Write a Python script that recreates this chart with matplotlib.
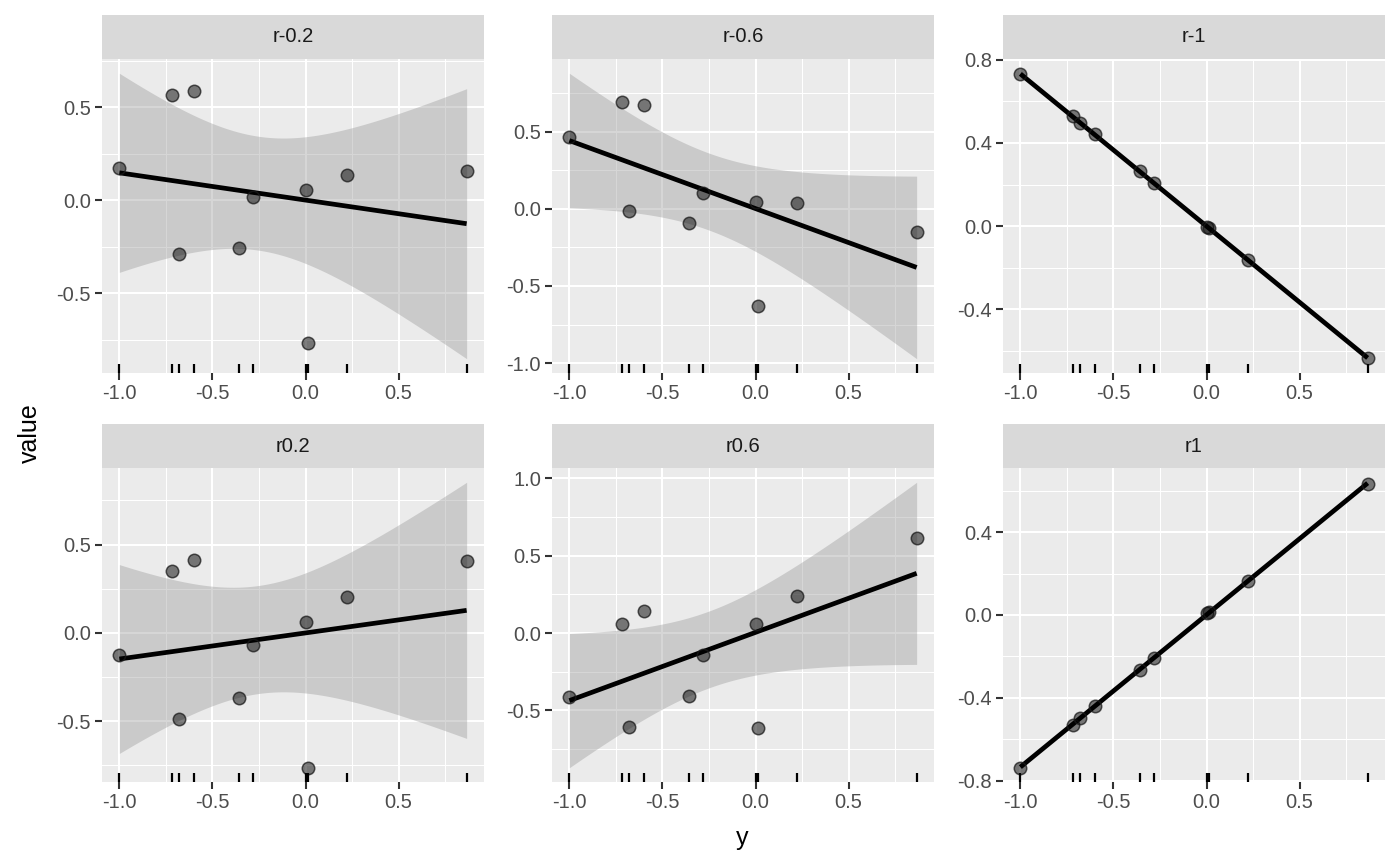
import matplotlib
matplotlib.use("Agg")
import matplotlib.pyplot as plt
from matplotlib.ticker import MultipleLocator
import numpy as np

plt.rcParams['font.family'] = ['Liberation Sans', 'DejaVu Sans']

# shared x values (y on the axis)
y_vals = [-1.0, -0.72, -0.68, -0.60, -0.36, -0.285, 0.005, 0.012, 0.225, 0.865]

panels = ['r-0.2', 'r-0.6', 'r-1', 'r0.2', 'r0.6', 'r1']
v_rm02 = [0.171, 0.568, -0.287, 0.589, -0.259, 0.016, 0.057, -0.766, 0.137, 0.155]
v_rm06 = [0.466, 0.694, -0.015, 0.675, -0.092, 0.104, 0.046, -0.629, 0.041, -0.149]
v_rm1 = [0.733, 0.529, 0.495, 0.441, 0.265, 0.206, -0.006, -0.010, -0.162, -0.632]
v_r02 = [-0.124, 0.353, -0.488, 0.411, -0.368, -0.068, 0.060, -0.764, 0.201, 0.408]
v_r06 = [-0.416, 0.060, -0.610, 0.144, -0.410, -0.144, 0.056, -0.612, 0.240, 0.614]
v_r1 = [-0.737, -0.529, -0.497, -0.440, -0.264, -0.209, 0.008, 0.012, 0.166, 0.633]
values = [v_rm02, v_rm06, v_rm1, v_r02, v_r06, v_r1]
tick_step = [0.5, 0.5, 0.4, 0.5, 0.5, 0.4]

T_975 = 2.306  # t quantile, df = 8

BG = '#EBEBEB'
STRIP = '#D9D9D9'

fig = plt.figure(figsize=(14, 8.66), dpi=100)

col_left = [102, 552, 1003]
col_w = 382
row_bottom = [373, 782]
panel_h = 314
strip_h = 44
W, H = 1400, 866

x = np.array(y_vals)
xlo, xhi = x.min(), x.max()
xpad = (xhi - xlo) * 0.05

for i, name in enumerate(panels):
    r, c = divmod(i, 3)
    v = np.array(values[i])
    left = col_left[c] / W
    bottom = 1 - row_bottom[r] / H
    ax = fig.add_axes([left, bottom, col_w / W, panel_h / H])
    sax = fig.add_axes([left, bottom + panel_h / H, col_w / W, strip_h / H])

    # linear fit with 95% band
    n = len(x)
    b, a = np.polyfit(x, v, 1)
    resid = v - (a + b * x)
    s = np.sqrt(np.sum(resid ** 2) / (n - 2))
    sxx = np.sum((x - x.mean()) ** 2)
    xs = np.linspace(xlo, xhi, 80)
    fit = a + b * xs
    se = s * np.sqrt(1.0 / n + (xs - x.mean()) ** 2 / sxx)
    lo, hi = fit - T_975 * se, fit + T_975 * se

    ax.set_facecolor(BG)
    ax.fill_between(xs, lo, hi, color='#999999', alpha=0.4, linewidth=0, zorder=2)
    ax.plot(xs, fit, color='black', linewidth=3.4, zorder=3, solid_capstyle='butt')
    ax.scatter(x, v, s=80, color=(0, 0, 0, 0.5), edgecolors=(0.1, 0.1, 0.1, 0.75),
               linewidths=1.1, zorder=4)

    ymin = min(v.min(), lo.min())
    ymax = max(v.max(), hi.max())
    ypad = (ymax - ymin) * 0.05
    ax.set_ylim(ymin - ypad, ymax + ypad)
    ax.set_xlim(xlo - xpad, xhi + xpad)

    # rug along the bottom
    ax.vlines(x, 0.0, 0.03, colors='black', linewidth=1.6,
              transform=ax.get_xaxis_transform(), zorder=5)

    ax.xaxis.set_major_locator(MultipleLocator(0.5))
    ax.xaxis.set_minor_locator(MultipleLocator(0.25))
    ax.yaxis.set_major_locator(MultipleLocator(tick_step[i]))
    ax.yaxis.set_minor_locator(MultipleLocator(tick_step[i] / 2))
    ax.grid(which='major', color='white', linewidth=1.5, zorder=0)
    ax.grid(which='minor', color='white', linewidth=0.75, zorder=0)
    ax.set_axisbelow(True)
    ax.yaxis.set_major_formatter(plt.FuncFormatter(lambda t, p: '%.1f' % t))
    ax.xaxis.set_major_formatter(plt.FuncFormatter(lambda t, p: '%.1f' % t))
    for sp in ax.spines.values():
        sp.set_visible(False)
    ax.tick_params(which='major', length=5, width=1.5, color='#333333',
                   labelsize=14.5, labelcolor='#4D4D4D', pad=3)
    ax.tick_params(which='minor', length=0)

    sax.set_facecolor(STRIP)
    sax.set_xticks([])
    sax.set_yticks([])
    for sp in sax.spines.values():
        sp.set_visible(False)
    sax.text(0.5, 0.5, name, ha='center', va='center', fontsize=14.5,
             color='#1A1A1A', transform=sax.transAxes)

fig.text(30 / W, 1 - 433 / H, 'value', rotation=90, ha='center', va='center',
         fontsize=18, color='black')
fig.text(742 / W, 1 - 838 / H, 'y', ha='center', va='center', fontsize=18,
         color='black')

fig.savefig('out.png', dpi=100)
